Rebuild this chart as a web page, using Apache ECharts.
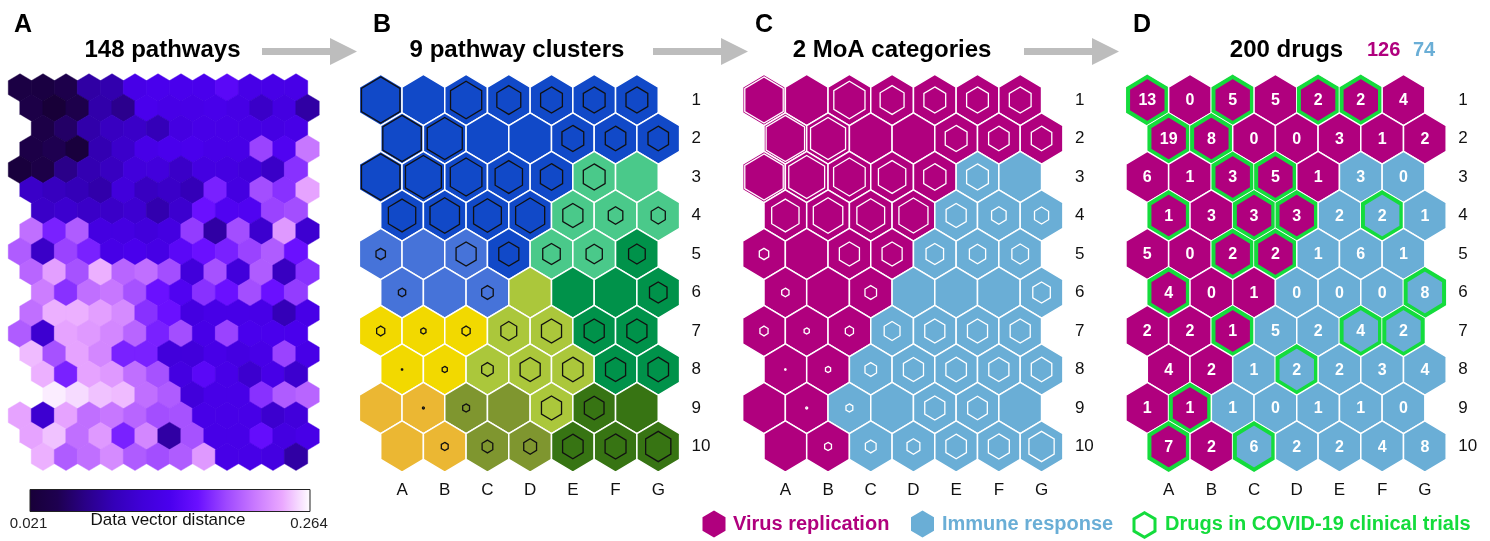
<!DOCTYPE html>
<html><head><meta charset="utf-8">
<script src="https://cdn.jsdelivr.net/npm/echarts@6/dist/echarts.min.js"></script>
<style>html,body{margin:0;padding:0;background:#fff}#c{width:1490px;height:541px}</style>
</head><body><div id="c"></div>
<script>
// ---------- data ----------
const colLabels = ['A','B','C','D','E','F','G'];
const rowLabels = ['1','2','3','4','5','6','7','8','9','10'];

// Panel A: U-matrix data vector distances (19 rows x 13 cols)
const umatrix = [
 [0.033,0.031,0.040,0.084,0.089,0.135,0.140,0.140,0.140,0.155,0.135,0.135,0.135],
 [0.036,0.021,0.040,0.087,0.072,0.140,0.135,0.135,0.138,0.133,0.106,0.128,0.084],
 [0.264,0.036,0.055,0.087,0.101,0.106,0.094,0.128,0.135,0.135,0.133,0.130,0.135],
 [0.036,0.045,0.026,0.091,0.108,0.135,0.140,0.140,0.135,0.135,0.189,0.147,0.215],
 [0.026,0.036,0.070,0.091,0.101,0.121,0.123,0.106,0.128,0.128,0.121,0.106,0.181],
 [0.106,0.099,0.094,0.087,0.121,0.101,0.106,0.094,0.174,0.128,0.194,0.181,0.237],
 [0.264,0.106,0.111,0.106,0.106,0.113,0.089,0.111,0.167,0.147,0.147,0.189,0.194],
 [0.211,0.174,0.201,0.128,0.128,0.121,0.128,0.186,0.084,0.194,0.111,0.232,0.113],
 [0.201,0.106,0.189,0.174,0.135,0.140,0.133,0.155,0.167,0.174,0.189,0.201,0.167],
 [0.206,0.235,0.196,0.242,0.206,0.211,0.194,0.121,0.196,0.121,0.201,0.101,0.181],
 [0.264,0.218,0.181,0.211,0.215,0.196,0.167,0.147,0.181,0.167,0.194,0.167,0.186],
 [0.211,0.242,0.242,0.235,0.225,0.181,0.167,0.128,0.135,0.135,0.135,0.094,0.135],
 [0.201,0.113,0.237,0.232,0.223,0.206,0.174,0.194,0.135,0.189,0.140,0.140,0.140],
 [0.245,0.196,0.237,0.223,0.174,0.174,0.121,0.121,0.135,0.128,0.135,0.189,0.135],
 [0.264,0.242,0.174,0.237,0.232,0.211,0.196,0.128,0.155,0.135,0.111,0.135,0.111],
 [0.264,0.259,0.254,0.247,0.245,0.211,0.201,0.121,0.135,0.135,0.181,0.201,0.206],
 [0.237,0.113,0.237,0.211,0.215,0.206,0.194,0.196,0.135,0.135,0.135,0.111,0.121],
 [0.237,0.247,0.211,0.232,0.174,0.223,0.084,0.196,0.135,0.135,0.162,0.128,0.135],
 [0.264,0.242,0.201,0.211,0.225,0.201,0.194,0.201,0.232,0.135,0.135,0.128,0.084]
];
const distMin = 0.021, distMax = 0.264;
const distColors = ['#180038','#1e0050','#2a0088','#3400b8','#4000d8','#4a00ee','#6a10ff','#9e48ff','#c878ff','#eaa8ff','#ffffff'];

// Panel B: pathway cluster id per node (rows 1-10, cols A-G)
const clusterGrid = [
 [0,0,0,0,0,0,0],
 [0,0,0,0,0,0,0],
 [0,0,0,0,0,2,2],
 [0,0,0,0,2,2,2],
 [1,1,1,0,2,2,3],
 [1,1,1,8,3,3,3],
 [5,5,5,8,8,3,3],
 [5,5,8,8,8,3,3],
 [6,6,7,7,8,4,4],
 [6,6,7,7,4,4,4]
];
const clusterColors = ['#1149c8','#4673d9','#4ac98a','#00924a','#377413','#f2d900','#ebb733','#7f962f','#abc73b'];

// relative size of the inner hexagon (node pathway count)
const innerSize = [
 [0.90,0.00,0.73,0.56,0.51,0.51,0.51],
 [0.90,0.82,0.00,0.00,0.51,0.48,0.48],
 [0.90,0.84,0.74,0.64,0.52,0.51,0.00],
 [0.64,0.69,0.65,0.68,0.47,0.34,0.33],
 [0.22,0.00,0.47,0.47,0.41,0.38,0.39],
 [0.17,0.00,0.27,0.00,0.00,0.00,0.41],
 [0.19,0.12,0.19,0.37,0.47,0.47,0.47],
 [0.03,0.12,0.27,0.47,0.48,0.47,0.48],
 [0.00,0.04,0.16,0.00,0.47,0.46,0.00],
 [0.00,0.16,0.25,0.30,0.48,0.49,0.59]
];

// Panel C/D: MoA category (0 = virus replication, 1 = immune response)
const moaGrid = [
 [0,0,0,0,0,0,0],
 [0,0,0,0,0,0,0],
 [0,0,0,0,0,1,1],
 [0,0,0,0,1,1,1],
 [0,0,0,0,1,1,1],
 [0,0,0,1,1,1,1],
 [0,0,0,1,1,1,1],
 [0,0,1,1,1,1,1],
 [0,0,1,1,1,1,1],
 [0,0,1,1,1,1,1]
];
const moaNames = ['Virus replication','Immune response'];
const moaColors = ['#b0007e','#6aaed6'];

// Panel D: drugs per node and COVID-19 clinical trial flag
const drugCounts = [
 [13,0,5,5,2,2,4],
 [19,8,0,0,3,1,2],
 [6,1,3,5,1,3,0],
 [1,3,3,3,2,2,1],
 [5,0,2,2,1,6,1],
 [4,0,1,0,0,0,8],
 [2,2,1,5,2,4,2],
 [4,2,1,2,2,3,4],
 [1,1,1,0,1,1,0],
 [7,2,6,2,2,4,8]
];
const trialFlags = [
 [1,0,1,0,1,1,0],
 [1,1,0,0,0,0,0],
 [0,0,1,1,0,0,0],
 [1,0,1,1,0,1,0],
 [0,0,1,1,0,0,0],
 [1,0,0,0,0,0,1],
 [0,0,1,0,0,1,1],
 [0,0,0,1,0,0,0],
 [0,1,0,0,0,0,0],
 [1,0,1,0,0,0,0]
];
const trialColor = '#14dc3c';
const totalVirus = 126, totalImmune = 74;

// ---------- helpers ----------
const FONT = '"Liberation Sans", Arial, Helvetica, sans-serif';
function hexPts(cx, cy, w, h, s) {
  const hw = w / 2 * s, hh = h / 2 * s;
  return [[cx, cy - hh], [cx + hw, cy - hh / 2], [cx + hw, cy + hh / 2],
          [cx, cy + hh], [cx - hw, cy + hh / 2], [cx - hw, cy - hh / 2]];
}
function txt(x, y, text, font, fill, align) {
  return {type: 'text', x: x, y: y, silent: true,
    style: {text: text, font: font, fill: fill, textAlign: align || 'center', textVerticalAlign: 'middle',
            align: align || 'center', verticalAlign: 'middle'}};
}

// ---------- series data ----------
const dataA = [];
umatrix.forEach((row, r) => row.forEach((v, c) => dataA.push([c, r, v])));
const dataB = [], dataC = [], dataD = [];
for (let r = 0; r < 10; r++) for (let c = 0; c < 7; c++) {
  dataB.push([c, r, clusterGrid[r][c], innerSize[r][c]]);
  dataC.push([c, r, moaGrid[r][c], innerSize[r][c]]);
  dataD.push([c, r, moaGrid[r][c], drugCounts[r][c], trialFlags[r][c]]);
}

function nodeCenter(api, c, r) {
  const p = api.coord([c, r]);
  const sz = api.size([1, 1]);
  const x = p[0] - (r % 2 === 0 ? sz[0] / 2 : 0);
  return {x: x, y: p[1], w: sz[0], h: sz[1] * 4 / 3};
}

// ---------- grids / axes ----------
const gridW = 7 * 42.7, gridH = 385, gridTop = 80.75;
const panelLefts = [380.7, 764.0, 1147.3];
const grids = [{left: 8.5, top: 77.4, width: 310.5, height: 389.5}];
panelLefts.forEach(l => grids.push({left: l, top: gridTop, width: gridW, height: gridH}));

const xAxes = [{gridIndex: 0, type: 'value', min: -0.5, max: 13, show: false}];
const yAxes = [{gridIndex: 0, type: 'value', min: -0.5, max: 18.5, inverse: true, show: false}];
for (let i = 1; i <= 3; i++) {
  xAxes.push({gridIndex: i, type: 'category', data: colLabels, position: 'bottom',
    axisLine: {show: false}, axisTick: {show: false}, splitLine: {show: false},
    axisLabel: {interval: 0, margin: 16, fontSize: 17, color: '#111', fontFamily: FONT}});
  yAxes.push({gridIndex: i, type: 'category', data: rowLabels, inverse: true, position: 'right',
    axisLine: {show: false}, axisTick: {show: false}, splitLine: {show: false},
    axisLabel: {interval: 0, margin: 12, fontSize: 17, color: '#111', fontFamily: FONT}});
}

// ---------- graphics ----------
function arrow(x0, xh, tip, y) {
  return {type: 'polygon', silent: true,
    shape: {points: [[x0, y - 3.5], [xh, y - 3.5], [xh, y - 13.5], [tip, y], [xh, y + 13.5], [xh, y + 3.5], [x0, y + 3.5]]},
    style: {fill: '#bdbdbd'}};
}
const gradStops = distColors.map((col, i) => ({offset: i / (distColors.length - 1), color: col}));
const graphics = [
  txt(23, 25, 'A', 'bold 25px ' + FONT, '#000'),
  txt(382, 25, 'B', 'bold 25px ' + FONT, '#000'),
  txt(764, 25, 'C', 'bold 25px ' + FONT, '#000'),
  txt(1142, 25, 'D', 'bold 25px ' + FONT, '#000'),
  txt(162.5, 50, '148 pathways', 'bold 24px ' + FONT, '#000'),
  txt(517, 50, '9 pathway clusters', 'bold 24px ' + FONT, '#000'),
  txt(892, 50, '2 MoA categories', 'bold 24px ' + FONT, '#000'),
  txt(1286.5, 50, '200 drugs', 'bold 24px ' + FONT, '#000'),
  txt(1367, 50, String(totalVirus), 'bold 20px ' + FONT, moaColors[0], 'left'),
  txt(1413, 50, String(totalImmune), 'bold 20px ' + FONT, moaColors[1], 'left'),
  arrow(262, 330, 357, 51.5),
  arrow(653, 721, 748, 51.5),
  arrow(1024, 1092, 1119, 51.5),
  {type: 'rect', silent: true, shape: {x: 30, y: 489.5, width: 280, height: 22},
    style: {fill: {type: 'linear', x: 0, y: 0, x2: 1, y2: 0, colorStops: gradStops}, stroke: '#222', lineWidth: 1}},
  txt(28.5, 524, distMin.toFixed(3), '15px ' + FONT, '#222'),
  txt(309, 524, distMax.toFixed(3), '15px ' + FONT, '#222'),
  txt(168, 520, 'Data vector distance', '17px ' + FONT, '#111'),
  {type: 'polygon', silent: true, shape: {points: hexPts(714, 524, 23, 27, 1)}, style: {fill: moaColors[0]}},
  txt(733, 524, moaNames[0], 'bold 20px ' + FONT, moaColors[0], 'left'),
  {type: 'polygon', silent: true, shape: {points: hexPts(922.5, 524, 23, 27, 1)}, style: {fill: moaColors[1]}},
  txt(942, 524, moaNames[1], 'bold 20px ' + FONT, moaColors[1], 'left'),
  {type: 'polygon', silent: true, shape: {points: hexPts(1144.5, 525, 21, 24.5, 1)}, style: {fill: 'none', stroke: trialColor, lineWidth: 3}},
  txt(1165, 524, 'Drugs in COVID-19 clinical trials', 'bold 20px ' + FONT, trialColor, 'left')
];

// ---------- option ----------
const option = {
  animation: false,
  backgroundColor: '#fff',
  grid: grids,
  xAxis: xAxes,
  yAxis: yAxes,
  visualMap: {type: 'continuous', show: false, seriesIndex: 0, dimension: 2, min: distMin, max: distMax,
    inRange: {color: distColors}},
  graphic: graphics,
  series: [
    {type: 'custom', xAxisIndex: 0, yAxisIndex: 0, data: dataA, encode: {x: 0, y: 1}, silent: true,
      renderItem: function (params, api) {
        const c = api.value(0), r = api.value(1);
        const p = api.coord([c + (r % 2 ? 0.5 : 0), r]);
        const sz = api.size([1, 1]);
        const col = api.visual('color');
        return {type: 'polygon', shape: {points: hexPts(p[0], p[1], sz[0] + 0.5, sz[1] * 4 / 3 + 0.5, 1)},
          style: {fill: col, stroke: col, lineWidth: 0.4}};
      }},
    {type: 'custom', xAxisIndex: 1, yAxisIndex: 1, data: dataB, encode: {x: 0, y: 1}, silent: true,
      renderItem: function (params, api) {
        const n = nodeCenter(api, api.value(0), api.value(1));
        const s = api.value(3);
        const ch = [{type: 'polygon', shape: {points: hexPts(n.x, n.y, n.w, n.h, 1)},
          style: {fill: clusterColors[api.value(2)], stroke: '#fff', lineWidth: 1.5}}];
        if (s > 0) ch.push({type: 'polygon', shape: {points: hexPts(n.x, n.y, n.w, n.h, s)},
          style: {fill: 'none', stroke: '#111', lineWidth: 1.3}});
        return {type: 'group', children: ch};
      }},
    {type: 'custom', xAxisIndex: 2, yAxisIndex: 2, data: dataC, encode: {x: 0, y: 1}, silent: true,
      renderItem: function (params, api) {
        const n = nodeCenter(api, api.value(0), api.value(1));
        const s = api.value(3);
        const ch = [{type: 'polygon', shape: {points: hexPts(n.x, n.y, n.w, n.h, 1)},
          style: {fill: moaColors[api.value(2)], stroke: '#fff', lineWidth: 1.5}}];
        if (s > 0) ch.push({type: 'polygon', shape: {points: hexPts(n.x, n.y, n.w, n.h, s)},
          style: {fill: 'none', stroke: '#fff', lineWidth: 1.3}});
        return {type: 'group', children: ch};
      }},
    {type: 'custom', xAxisIndex: 3, yAxisIndex: 3, data: dataD, encode: {x: 0, y: 1}, silent: true,
      renderItem: function (params, api) {
        const n = nodeCenter(api, api.value(0), api.value(1));
        const ch = [{type: 'polygon', shape: {points: hexPts(n.x, n.y, n.w, n.h, 1)},
          style: {fill: moaColors[api.value(2)], stroke: '#fff', lineWidth: 1.5}}];
        if (api.value(4)) ch.push({type: 'polygon', shape: {points: hexPts(n.x, n.y, n.w, n.h, 0.9)},
          style: {fill: 'none', stroke: trialColor, lineWidth: 4}});
        ch.push({type: 'text', x: n.x, y: n.y + 1,
          style: {text: String(api.value(3)), fill: '#fff', font: 'bold 16px ' + FONT,
            textAlign: 'center', textVerticalAlign: 'middle', align: 'center', verticalAlign: 'middle'}});
        return {type: 'group', children: ch};
      }}
  ]
};
const chart = echarts.init(document.getElementById('c'), null, {renderer: 'canvas'});
chart.setOption(option);
</script>
</body></html>
